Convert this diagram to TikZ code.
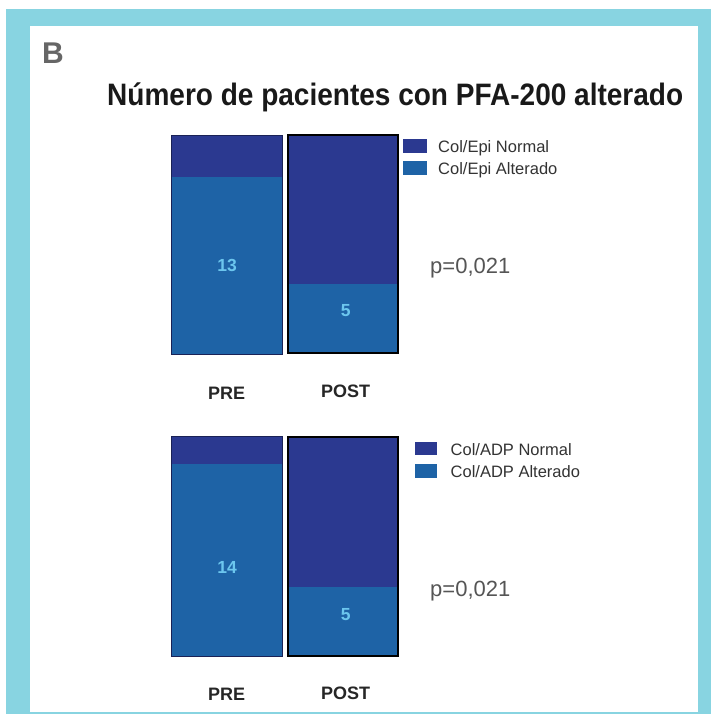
\documentclass[tikz,border=0pt]{standalone}
\usepackage{fontspec}
\setmainfont{Liberation Sans}
\definecolor{framecyan}{HTML}{88D4E1}
\definecolor{normalblue}{HTML}{2B3990}
\definecolor{altblue}{HTML}{1E63A6}
\definecolor{numblue}{HTML}{6CC6EE}
\definecolor{textgrey}{HTML}{555555}

\begin{document}
\begin{tikzpicture}[x=1pt,y=-1pt,
  normalpart/.style={fill=normalblue},
  altpart/.style={fill=altblue},
  preline/.style={draw=normalblue!60!black,line width=0.8pt},
  postline/.style={draw=black,line width=2pt},
  count/.style={anchor=base,text=numblue,font=\bfseries\fontsize{17.5}{17.5}\selectfont},
  legtext/.style={anchor=base west,text=black!80,font=\fontsize{16.5}{16.5}\selectfont},
  pval/.style={anchor=base west,text=textgrey,font=\fontsize{22}{22}\selectfont},
  axlabel/.style={anchor=base,text=black!85,font=\bfseries\fontsize{18}{18}\selectfont}]
\useasboundingbox (0,0) rectangle (711,714);
\fill[white] (0,0) rectangle (711,714);
\fill[framecyan] (6,9) rectangle (711,714);
\fill[white] (30,26) rectangle (697.7,712.3);
\node[anchor=base west,text=black!60,font=\bfseries\fontsize{30}{30}\selectfont,inner sep=0pt] (panel) at (42,64) {B};
\node[anchor=base west,text=black!90,font=\bfseries\fontsize{31}{31}\selectfont,inner sep=0pt] (title) at (107,106) {\resizebox{576pt}{\height}{Número de pacientes con PFA-200 alterado}};
% Col/Epi
\fill[altpart] (171.7,176.7) rectangle (282.3,354);
\fill[normalpart] (171.7,135) rectangle (282.3,176.7);
\draw[preline] (171.7,135) rectangle (282.3,354);
\fill[altpart] (287.7,284.3) rectangle (398.3,352.7);
\fill[normalpart] (287.7,135) rectangle (398.3,284.3);
\draw[postline] (287.7,135) rectangle (398.3,352.7);
\node[count] (epipre) at (227,271.7) {13};
\node[count] (epipost) at (345.7,316.7) {5};
\fill[normalpart] (402.7,139.3) rectangle (426.7,153.3);
\fill[altpart] (402.7,161.3) rectangle (426.7,175);
\node[legtext,inner sep=0pt] (epinormal) at (438,152.3) {Col/Epi Normal};
\node[legtext,inner sep=0pt] (epialt) at (438,174.3) {Col/Epi Alterado};
\node[pval,inner sep=0pt] (epip) at (430,273.3) {p=0,021};
\node[axlabel] (epiprelab) at (226.7,399.3) {PRE};
\node[axlabel] (epipostlab) at (345.7,397.3) {POST};
% Col/ADP
\fill[altpart] (171.7,464) rectangle (282.3,656);
\fill[normalpart] (171.7,436.7) rectangle (282.3,464);
\draw[preline] (171.7,436.7) rectangle (282.3,656);
\fill[altpart] (287.7,586.7) rectangle (398.3,656);
\fill[normalpart] (287.7,436.7) rectangle (398.3,586.7);
\draw[postline] (287.7,436.7) rectangle (398.3,656);
\node[count] (adppre) at (227,573.3) {14};
\node[count] (adppost) at (345.7,620) {5};
\fill[normalpart] (415,442) rectangle (437.3,455);
\fill[altpart] (415,464.3) rectangle (437.3,477.7);
\node[legtext,inner sep=0pt] (adpnormal) at (450.5,455) {Col/ADP Normal};
\node[legtext,inner sep=0pt] (adpalt) at (450.5,477.3) {Col/ADP Alterado};
\node[pval,inner sep=0pt] (adpp) at (430,596.7) {p=0,021};
\node[axlabel] (adpprelab) at (226.7,700) {PRE};
\node[axlabel] (adppostlab) at (345.7,699.3) {POST};
\end{tikzpicture}
\end{document}
